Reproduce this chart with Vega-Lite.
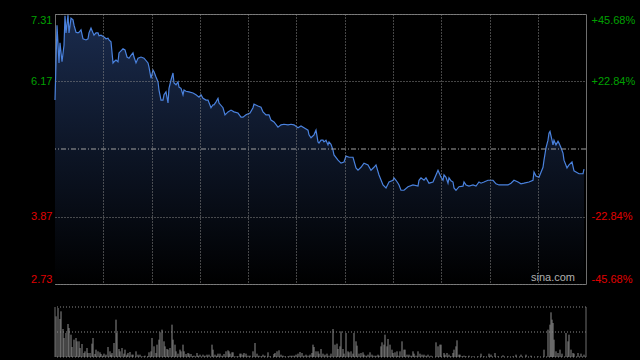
{
 "$schema": "https://vega.github.io/schema/vega-lite/v6.json",
 "background": "#000000",
 "padding": {"left": 24, "top": 12, "right": 5, "bottom": 5},
 "spacing": 21,
 "config": {"view": {"stroke": null}, "axis": {"labelFont": "Liberation Sans", "labelFontSize": 11}},
 "datasets": {
  "price": [
   {"t":54,"p":5.85},{"t":56,"p":7.12},{"t":58,"p":6.48},{"t":59,"p":6.82},{"t":61,"p":6.50},{"t":63,"p":6.78},{"t":64,"p":7.28},{"t":65,"p":6.99},{"t":67,"p":7.29},{"t":68,"p":6.99},
   {"t":70,"p":7.24},{"t":72,"p":7.21},{"t":73,"p":7.12},{"t":75,"p":7.00},{"t":77,"p":6.99},{"t":78,"p":7.00},{"t":80,"p":7.04},{"t":82,"p":6.89},{"t":85,"p":6.87},{"t":87,"p":6.89},
   {"t":88,"p":6.99},{"t":90,"p":7.07},{"t":92,"p":6.99},{"t":93,"p":6.95},{"t":95,"p":6.99},{"t":97,"p":6.99},{"t":98,"p":6.94},{"t":100,"p":6.95},{"t":103,"p":6.92},{"t":105,"p":6.89},
   {"t":107,"p":6.90},{"t":108,"p":6.87},{"t":110,"p":6.84},{"t":112,"p":6.48},{"t":113,"p":6.50},{"t":115,"p":6.53},{"t":117,"p":6.50},{"t":118,"p":6.65},{"t":122,"p":6.72},{"t":124,"p":6.70},
   {"t":126,"p":6.58},{"t":128,"p":6.56},{"t":130,"p":6.61},{"t":132,"p":6.65},{"t":133,"p":6.58},{"t":135,"p":6.48},{"t":137,"p":6.56},{"t":140,"p":6.58},{"t":143,"p":6.56},{"t":147,"p":6.48},
   {"t":148,"p":6.41},{"t":150,"p":6.22},{"t":152,"p":6.36},{"t":153,"p":6.33},{"t":155,"p":6.24},{"t":157,"p":6.16},{"t":158,"p":6.02},{"t":160,"p":5.85},{"t":162,"p":5.85},{"t":163,"p":5.94},
   {"t":165,"p":5.99},{"t":167,"p":5.80},{"t":168,"p":6.05},{"t":170,"p":6.19},{"t":172,"p":6.31},{"t":173,"p":6.14},{"t":175,"p":6.11},{"t":177,"p":6.16},{"t":178,"p":6.07},{"t":180,"p":6.05},
   {"t":182,"p":5.94},{"t":183,"p":6.02},{"t":185,"p":6.00},{"t":188,"p":5.99},{"t":192,"p":5.97},{"t":195,"p":5.94},{"t":198,"p":5.90},{"t":200,"p":5.94},{"t":202,"p":5.88},{"t":205,"p":5.85},
   {"t":207,"p":5.85},{"t":210,"p":5.72},{"t":212,"p":5.77},{"t":213,"p":5.77},{"t":215,"p":5.82},{"t":217,"p":5.88},{"t":218,"p":5.80},{"t":222,"p":5.72},{"t":224,"p":5.60},{"t":227,"p":5.65},
   {"t":230,"p":5.68},{"t":233,"p":5.65},{"t":237,"p":5.63},{"t":240,"p":5.56},{"t":242,"p":5.56},{"t":245,"p":5.60},{"t":249,"p":5.63},{"t":252,"p":5.72},{"t":253,"p":5.78},{"t":257,"p":5.75},
   {"t":260,"p":5.73},{"t":262,"p":5.65},{"t":265,"p":5.60},{"t":268,"p":5.60},{"t":270,"p":5.51},{"t":273,"p":5.48},{"t":277,"p":5.39},{"t":280,"p":5.43},{"t":283,"p":5.44},{"t":287,"p":5.43},
   {"t":290,"p":5.44},{"t":293,"p":5.43},{"t":297,"p":5.38},{"t":300,"p":5.41},{"t":303,"p":5.38},{"t":307,"p":5.34},{"t":308,"p":5.26},{"t":310,"p":5.21},{"t":313,"p":5.26},{"t":315,"p":5.34},
   {"t":317,"p":5.14},{"t":318,"p":5.12},{"t":320,"p":5.17},{"t":322,"p":5.17},{"t":323,"p":5.14},{"t":325,"p":5.17},{"t":327,"p":5.09},{"t":328,"p":5.14},{"t":330,"p":5.10},{"t":332,"p":5.00},
   {"t":333,"p":4.92},{"t":337,"p":4.83},{"t":340,"p":4.78},{"t":343,"p":4.80},{"t":345,"p":4.90},{"t":348,"p":4.88},{"t":352,"p":4.88},{"t":355,"p":4.70},{"t":357,"p":4.66},{"t":360,"p":4.71},
   {"t":363,"p":4.78},{"t":367,"p":4.75},{"t":370,"p":4.66},{"t":373,"p":4.71},{"t":375,"p":4.75},{"t":378,"p":4.58},{"t":382,"p":4.41},{"t":385,"p":4.36},{"t":388,"p":4.46},{"t":392,"p":4.49},
   {"t":393,"p":4.53},{"t":395,"p":4.49},{"t":397,"p":4.44},{"t":398,"p":4.41},{"t":400,"p":4.32},{"t":403,"p":4.32},{"t":407,"p":4.38},{"t":412,"p":4.41},{"t":417,"p":4.39},{"t":418,"p":4.49},
   {"t":420,"p":4.53},{"t":423,"p":4.49},{"t":425,"p":4.53},{"t":428,"p":4.44},{"t":432,"p":4.46},{"t":435,"p":4.58},{"t":437,"p":4.66},{"t":440,"p":4.54},{"t":442,"p":4.49},{"t":443,"p":4.58},
   {"t":445,"p":4.54},{"t":447,"p":4.44},{"t":448,"p":4.53},{"t":450,"p":4.48},{"t":452,"p":4.46},{"t":453,"p":4.36},{"t":455,"p":4.32},{"t":458,"p":4.38},{"t":462,"p":4.39},{"t":463,"p":4.46},
   {"t":465,"p":4.41},{"t":468,"p":4.39},{"t":472,"p":4.41},{"t":475,"p":4.39},{"t":478,"p":4.46},{"t":480,"p":4.44},{"t":483,"p":4.46},{"t":487,"p":4.49},{"t":492,"p":4.49},{"t":495,"p":4.43},
   {"t":498,"p":4.41},{"t":502,"p":4.41},{"t":507,"p":4.41},{"t":510,"p":4.44},{"t":513,"p":4.49},{"t":517,"p":4.46},{"t":520,"p":4.43},{"t":523,"p":4.44},{"t":528,"p":4.46},{"t":532,"p":4.49},
   {"t":533,"p":4.63},{"t":535,"p":4.56},{"t":538,"p":4.54},{"t":542,"p":4.71},{"t":543,"p":4.83},{"t":545,"p":5.04},{"t":547,"p":5.17},{"t":548,"p":5.29},{"t":549,"p":5.32},{"t":551,"p":5.17},
   {"t":552,"p":5.09},{"t":553,"p":5.17},{"t":555,"p":5.09},{"t":557,"p":5.15},{"t":558,"p":5.12},{"t":560,"p":5.04},{"t":562,"p":4.95},{"t":563,"p":4.83},{"t":566,"p":4.70},{"t":568,"p":4.75},
   {"t":571,"p":4.80},{"t":573,"p":4.65},{"t":575,"p":4.63},{"t":578,"p":4.60},{"t":582,"p":4.60},{"t":583,"p":4.68}
  ],
  "vol": [
   {"t":55,"v":122},{"t":57,"v":147},{"t":59,"v":114},{"t":60,"v":137},{"t":62,"v":84},{"t":63,"v":57},{"t":65,"v":72},{"t":67,"v":99},{"t":68,"v":87},{"t":70,"v":67},
   {"t":71,"v":30},{"t":73,"v":52},{"t":75,"v":57},{"t":76,"v":47},{"t":78,"v":47},{"t":79,"v":27},{"t":81,"v":39},{"t":83,"v":12},{"t":84,"v":17},{"t":86,"v":27},
   {"t":87,"v":12},{"t":89,"v":12},{"t":91,"v":40},{"t":92,"v":57},{"t":94,"v":9},{"t":95,"v":22},{"t":97,"v":17},{"t":99,"v":14},{"t":100,"v":9},{"t":102,"v":4},
   {"t":103,"v":10},{"t":105,"v":7},{"t":107,"v":30},{"t":109,"v":17},{"t":110,"v":7},{"t":111,"v":12},{"t":113,"v":42},{"t":115,"v":112},{"t":116,"v":72},{"t":118,"v":24},
   {"t":119,"v":17},{"t":121,"v":27},{"t":123,"v":10},{"t":124,"v":22},{"t":126,"v":7},{"t":127,"v":12},{"t":129,"v":15},{"t":131,"v":7},{"t":132,"v":7},{"t":135,"v":17},
   {"t":137,"v":7},{"t":139,"v":7},{"t":142,"v":2},{"t":144,"v":4},{"t":147,"v":2},{"t":148,"v":14},{"t":150,"v":17},{"t":151,"v":57},{"t":153,"v":32},{"t":155,"v":12},
   {"t":156,"v":37},{"t":158,"v":52},{"t":159,"v":74},{"t":161,"v":82},{"t":163,"v":47},{"t":164,"v":32},{"t":166,"v":24},{"t":167,"v":22},{"t":169,"v":27},{"t":171,"v":97},
   {"t":172,"v":52},{"t":174,"v":37},{"t":175,"v":17},{"t":177,"v":10},{"t":179,"v":22},{"t":180,"v":17},{"t":182,"v":37},{"t":183,"v":17},{"t":185,"v":9},{"t":187,"v":12},
   {"t":188,"v":10},{"t":190,"v":9},{"t":192,"v":2},{"t":193,"v":4},{"t":196,"v":12},{"t":197,"v":4},{"t":199,"v":7},{"t":202,"v":7},{"t":204,"v":4},{"t":206,"v":7},
   {"t":208,"v":7},{"t":211,"v":37},{"t":212,"v":22},{"t":214,"v":7},{"t":216,"v":4},{"t":217,"v":10},{"t":219,"v":10},{"t":221,"v":4},{"t":223,"v":9},{"t":225,"v":17},
   {"t":227,"v":20},{"t":228,"v":17},{"t":229,"v":10},{"t":231,"v":14},{"t":232,"v":14},{"t":235,"v":2},{"t":237,"v":2},{"t":239,"v":10},{"t":240,"v":10},{"t":242,"v":7},
   {"t":243,"v":12},{"t":245,"v":10},{"t":247,"v":4},{"t":249,"v":4},{"t":252,"v":17},{"t":254,"v":42},{"t":256,"v":10},{"t":258,"v":4},{"t":260,"v":2},{"t":262,"v":7},
   {"t":264,"v":4},{"t":267,"v":14},{"t":269,"v":2},{"t":273,"v":9},{"t":274,"v":12},{"t":276,"v":17},{"t":278,"v":20},{"t":280,"v":7},{"t":282,"v":4},{"t":284,"v":2},
   {"t":287,"v":2},{"t":289,"v":4},{"t":291,"v":4},{"t":293,"v":4},{"t":295,"v":7},{"t":297,"v":10},{"t":299,"v":15},{"t":301,"v":12},{"t":303,"v":4},{"t":305,"v":7},
   {"t":307,"v":4},{"t":309,"v":7},{"t":311,"v":12},{"t":312,"v":37},{"t":313,"v":30},{"t":315,"v":17},{"t":317,"v":17},{"t":318,"v":10},{"t":320,"v":24},{"t":322,"v":10},
   {"t":324,"v":7},{"t":326,"v":10},{"t":328,"v":4},{"t":330,"v":10},{"t":332,"v":84},{"t":334,"v":37},{"t":336,"v":40},{"t":337,"v":24},{"t":339,"v":32},{"t":340,"v":77},
   {"t":342,"v":24},{"t":343,"v":10},{"t":345,"v":72},{"t":347,"v":17},{"t":348,"v":14},{"t":350,"v":17},{"t":352,"v":10},{"t":353,"v":72},{"t":355,"v":47},{"t":356,"v":34},
   {"t":358,"v":10},{"t":360,"v":12},{"t":362,"v":14},{"t":363,"v":7},{"t":365,"v":4},{"t":367,"v":7},{"t":369,"v":14},{"t":371,"v":7},{"t":373,"v":4},{"t":375,"v":4},
   {"t":377,"v":7},{"t":378,"v":4},{"t":380,"v":32},{"t":381,"v":44},{"t":383,"v":37},{"t":384,"v":67},{"t":386,"v":32},{"t":387,"v":54},{"t":389,"v":37},{"t":391,"v":22},
   {"t":392,"v":12},{"t":394,"v":14},{"t":396,"v":17},{"t":397,"v":4},{"t":399,"v":17},{"t":401,"v":47},{"t":403,"v":22},{"t":404,"v":22},{"t":406,"v":7},{"t":408,"v":7},
   {"t":410,"v":4},{"t":412,"v":17},{"t":413,"v":10},{"t":415,"v":4},{"t":417,"v":17},{"t":419,"v":10},{"t":421,"v":7},{"t":423,"v":7},{"t":425,"v":4},{"t":427,"v":7},
   {"t":430,"v":4},{"t":435,"v":44},{"t":437,"v":32},{"t":439,"v":37},{"t":440,"v":37},{"t":443,"v":12},{"t":444,"v":7},{"t":446,"v":12},{"t":448,"v":7},{"t":450,"v":2},
   {"t":452,"v":12},{"t":453,"v":22},{"t":455,"v":32},{"t":456,"v":50},{"t":458,"v":7},{"t":459,"v":7},{"t":461,"v":2},{"t":463,"v":4},{"t":465,"v":2},{"t":468,"v":4},
   {"t":472,"v":2},{"t":477,"v":2},{"t":480,"v":10},{"t":483,"v":2},{"t":488,"v":10},{"t":490,"v":7},{"t":494,"v":12},{"t":497,"v":2},{"t":502,"v":5},{"t":507,"v":2},
   {"t":512,"v":2},{"t":515,"v":7},{"t":520,"v":7},{"t":525,"v":7},{"t":530,"v":4},{"t":537,"v":2},{"t":543,"v":22},{"t":547,"v":82},{"t":549,"v":97},{"t":550,"v":134},
   {"t":551,"v":112},{"t":552,"v":102},{"t":553,"v":52},{"t":555,"v":17},{"t":557,"v":12},{"t":559,"v":22},{"t":561,"v":10},{"t":565,"v":72},{"t":567,"v":47},{"t":568,"v":67},
   {"t":570,"v":22},{"t":572,"v":12},{"t":573,"v":10},{"t":577,"v":12},{"t":580,"v":10},{"t":583,"v":7}
  ]
 },
 "vconcat": [
  {
   "width": 531,
   "height": 270,
   "view": {"stroke": "#6e6e6e", "strokeWidth": 1},
   "layer": [
    {
     "data": {"name": "price"},
     "mark": {"type": "area", "color": {"gradient": "linear", "x1": 0, "y1": 0, "x2": 0, "y2": 1, "stops": [{"offset": 0, "color": "#1a2b4d"}, {"offset": 1, "color": "#000000"}]}},
     "encoding": {
      "x": {"field": "t", "type": "quantitative", "scale": {"domain": [54, 585], "nice": false, "zero": false},
            "axis": {"values": [102.3, 150.5, 198.8, 247.1, 295.4, 343.6, 391.9, 440.2, 488.5, 536.7], "grid": true, "gridColor": "#8a8a8a", "gridDash": [1, 2], "labels": false, "ticks": false, "domain": false, "title": null, "zindex": 1}},
      "y": {"field": "p", "type": "quantitative", "scale": {"domain": [2.73, 7.31], "nice": false, "zero": false},
            "axis": {"orient": "left", "values": [2.73, 3.87, 6.17, 7.31], "format": ".2f", "labelFlush": true, "grid": true, "gridColor": "#8a8a8a", "gridDash": [1, 2], "ticks": false, "domain": false, "title": null, "labelPadding": 3, "minExtent": 30, "maxExtent": 30, "zindex": 1,
                     "labelColor": {"condition": {"test": "datum.value > 5.02", "value": "#00a000"}, "value": "#e00000"}}},
      "y2": {"datum": 2.73}
     }
    },
    {
     "data": {"name": "price"},
     "mark": {"type": "line", "color": "#4a82de", "strokeWidth": 1.2},
     "encoding": {
      "x": {"field": "t", "type": "quantitative", "scale": {"domain": [54, 585], "nice": false, "zero": false},
            "axis": {"values": [102.3, 150.5, 198.8, 247.1, 295.4, 343.6, 391.9, 440.2, 488.5, 536.7], "grid": true, "gridColor": "#8a8a8a", "gridDash": [1, 2], "labels": false, "ticks": false, "domain": false, "title": null, "zindex": 1}},
      "y": {"field": "p", "type": "quantitative",
            "axis": {"orient": "right", "values": [2.73, 3.87, 6.17, 7.31], "labelFlush": true, "grid": false, "ticks": false, "domain": false, "title": null, "labelPadding": 5, "minExtent": 50, "maxExtent": 50,
                     "labelExpr": "datum.value > 7 ? '+45.68%' : datum.value > 6 ? '+22.84%' : datum.value > 3 ? '-22.84%' : '-45.68%'",
                     "labelColor": {"condition": {"test": "datum.value > 5.02", "value": "#00a000"}, "value": "#e00000"}}}
     }
    },
    {
     "data": {"values": [{"pc": 5.02}]},
     "mark": {"type": "rule", "color": "#a0a0a0", "strokeDash": [5, 2, 1, 2]},
     "encoding": {"y": {"field": "pc", "type": "quantitative", "axis": null}}
    },
    {
     "data": {"values": [{"t": 574, "p": 2.73, "label": "sina.com"}]},
     "mark": {"type": "text", "align": "right", "baseline": "bottom", "dy": -1, "font": "Liberation Sans", "fontSize": 11, "color": "#b0b0b0"},
     "encoding": {
      "x": {"field": "t", "type": "quantitative", "axis": {"values": [102.3, 150.5, 198.8, 247.1, 295.4, 343.6, 391.9, 440.2, 488.5, 536.7], "grid": true, "gridColor": "#8a8a8a", "gridDash": [1, 2], "labels": false, "ticks": false, "domain": false, "title": null, "zindex": 1}},
      "y": {"field": "p", "type": "quantitative", "axis": null},
      "text": {"field": "label"}
     }
    }
   ],
   "resolve": {"axis": {"y": "independent"}}
  },
  {
   "width": 531,
   "height": 50,
   "layer": [
    {
     "data": {"name": "vol"},
     "mark": {"type": "rule", "color": "#8c8c8c", "strokeWidth": 1},
     "encoding": {
      "x": {"field": "t", "type": "quantitative", "scale": {"domain": [54, 585], "nice": false, "zero": false}, "axis": null},
      "y": {"field": "v", "type": "quantitative", "scale": {"domain": [0, 150], "nice": false}, "axis": null},
      "y2": {"datum": 0}
     }
    },
    {
     "data": {"values": [{"g": 0}, {"g": 75}, {"g": 150}]},
     "mark": {"type": "rule", "color": "#8a8a8a", "strokeDash": [1, 2]},
     "encoding": {"y": {"field": "g", "type": "quantitative", "axis": null}}
    },
    {
     "data": {"values": [{"e": 54}, {"e": 585}]},
     "mark": {"type": "rule", "color": "#6e6e6e"},
     "encoding": {"x": {"field": "e", "type": "quantitative", "axis": null}}
    }
   ]
  }
 ]
}
